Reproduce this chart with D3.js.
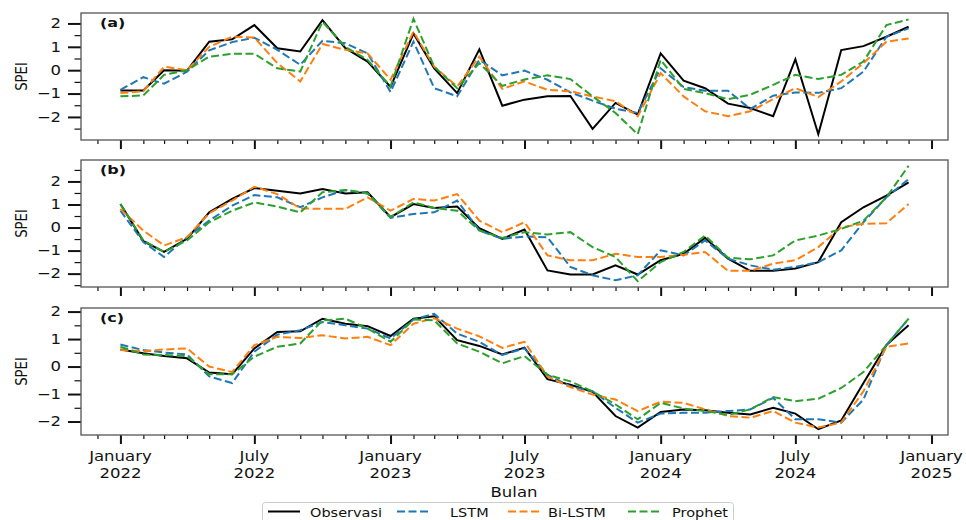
<!DOCTYPE html>
<html><head><meta charset="utf-8">
<script src="https://cdn.jsdelivr.net/npm/d3@7"></script>
<style>body{margin:0;background:#fff} svg{display:block}</style>
</head><body><svg id="chart" width="966" height="520"></svg>
<script>
// ---------- data ----------
const firstMonth = "2022-01-01";
const lastMonthExclusive = "2025-01-01";
const seriesNames = ["Observasi", "LSTM", "Bi-LSTM", "Prophet"];
const panelLabels = ["(a)", "(b)", "(c)"];
const majorTickDates = ["2022-01-01","2022-07-01","2023-01-01","2023-07-01","2024-01-01","2024-07-01","2025-01-01"];
const majorTickLabels = [["January","2022"],["July","2022"],["January","2023"],["July","2023"],["January","2024"],["July","2024"],["January","2025"]];

const obsA = [-0.87,-0.87,0.0,-0.02,1.22,1.32,1.93,0.94,0.8,2.14,0.94,0.37,-0.72,1.57,0.08,-0.98,0.89,-1.52,-1.26,-1.12,-1.1,-2.51,-1.4,-1.9,0.72,-0.45,-0.77,-1.43,-1.62,-1.97,0.47,-2.74,0.86,1.03,1.43,1.86];
const lstmA = [-0.84,-0.3,-0.58,-0.06,0.85,1.2,1.39,0.87,0.23,1.26,1.15,0.72,-0.93,1.22,-0.77,-1.12,0.45,-0.22,-0.02,-0.41,-0.95,-1.3,-1.65,-1.83,0.08,-0.72,-0.88,-0.88,-1.66,-1.09,-0.95,-0.97,-0.77,-0.06,1.43,1.79];
const biA = [-0.98,-0.9,0.15,0.0,1.0,1.43,1.4,0.3,-0.48,1.12,0.87,0.72,-0.41,1.65,0.15,-0.7,0.58,-0.8,-0.48,-0.84,-0.9,-1.12,-1.33,-1.97,-0.13,-1.12,-1.76,-1.97,-1.76,-1.24,-0.77,-1.15,-0.48,0.3,1.22,1.36];
const prophetA = [-1.12,-1.08,-0.2,0.0,0.58,0.7,0.7,0.08,-0.06,2.07,1.0,0.44,-0.7,2.2,0.15,-0.77,0.3,-0.67,-0.4,-0.22,-0.38,-1.12,-1.83,-2.74,0.44,-0.8,-0.98,-1.24,-1.05,-0.63,-0.2,-0.38,-0.2,0.37,1.93,2.17];

const obsB = [1.02,-0.59,-1.06,-0.49,0.66,1.24,1.71,1.6,1.48,1.67,1.48,1.53,0.45,1.02,0.85,0.91,-0.03,-0.49,-0.09,-1.86,-2.04,-2.04,-1.64,-2.04,-1.42,-1.14,-0.45,-1.35,-1.88,-1.88,-1.78,-1.5,0.23,0.88,1.38,1.96];
const lstmB = [0.73,-0.63,-1.28,-0.42,0.3,0.95,1.41,1.31,0.88,1.31,1.63,1.48,0.42,0.59,0.66,1.17,-0.13,-0.49,-0.39,-0.42,-1.71,-2.07,-2.29,-2.07,-0.99,-1.21,-0.56,-1.35,-1.64,-1.83,-1.71,-1.5,-0.99,0.23,1.31,2.1];
const biB = [0.81,-0.13,-0.78,-0.42,0.62,1.17,1.77,1.45,0.83,0.81,0.81,1.31,0.73,1.24,1.17,1.45,0.3,-0.2,0.23,-1.21,-1.42,-1.42,-1.14,-1.28,-1.28,-1.18,-1.06,-1.88,-1.88,-1.57,-1.42,-0.85,0.01,0.16,0.19,1.02];
const prophetB = [1.02,-0.56,-1.06,-0.56,0.23,0.73,1.09,0.91,0.66,1.53,1.63,1.48,0.45,1.09,0.85,0.73,-0.13,-0.45,-0.2,-0.3,-0.2,-0.85,-1.28,-2.33,-1.5,-1.06,-0.35,-1.31,-1.38,-1.21,-0.56,-0.35,-0.06,0.3,1.31,2.68];

const obsC = [0.62,0.48,0.38,0.3,-0.22,-0.28,0.66,1.26,1.28,1.74,1.56,1.47,1.11,1.74,1.83,0.96,0.75,0.44,0.69,-0.46,-0.66,-0.92,-1.8,-2.22,-1.65,-1.56,-1.59,-1.68,-1.74,-1.5,-1.71,-2.28,-1.96,-0.6,0.78,1.5];
const lstmC = [0.8,0.6,0.51,0.44,-0.36,-0.6,0.54,1.16,1.32,1.62,1.5,1.38,1.02,1.71,1.92,1.2,0.9,0.42,0.66,-0.3,-0.72,-0.9,-1.5,-2.04,-1.71,-1.68,-1.68,-1.62,-1.56,-1.14,-1.92,-1.92,-2.04,-1.2,0.78,1.74];
const biC = [0.6,0.56,0.62,0.66,0.0,-0.2,0.78,1.08,1.04,1.14,1.02,1.08,0.78,1.56,1.76,1.38,1.1,0.68,0.9,-0.36,-0.75,-1.02,-1.2,-1.62,-1.28,-1.32,-1.56,-1.8,-1.86,-1.62,-2.04,-2.22,-2.04,-0.9,0.72,0.84];
const prophetC = [0.72,0.44,0.42,0.38,-0.28,-0.28,0.36,0.72,0.84,1.68,1.74,1.38,0.9,1.71,1.68,0.84,0.54,0.12,0.38,-0.3,-0.54,-0.9,-1.38,-1.92,-1.32,-1.53,-1.62,-1.76,-1.56,-1.11,-1.26,-1.17,-0.78,-0.2,0.78,1.74];

const panelData = [[obsA, lstmA, biA, prophetA],[obsB, lstmB, biB, prophetB],[obsC, lstmC, biC, prophetC]];

// ---------- styles ----------
const colors = ["#000000", "#1f77b4", "#ff7f0e", "#2ca02c"];
const dashes = [null, "8,3.5", "8,3.5", "8,3.5"];
const FONT = "DejaVu Sans, sans-serif";
const SY = 0.8;
const L = 81, R = 948, PH = 127;
const tops = [13, 160, 308];

const svg = d3.select("#chart");
const parse = d3.utcParse("%Y-%m-%d");
const months = d3.utcMonth.range(parse(firstMonth), parse(lastMonthExclusive));
const t0 = +months[0], t1 = +months[months.length - 1], span = t1 - t0;
const x = d3.scaleUtc().domain([new Date(t0 - 0.05 * span), new Date(t1 + 0.05 * span)]).range([L, R]);
const majorDates = majorTickDates.map(parse);
const minorDates = d3.utcMonth.range(x.domain()[0], x.domain()[1]).filter(d => !majorDates.some(m => +m === +d));

function txt(g, px, py, str, size, opts = {}) {
  const t = g.append("text")
    .attr("transform", `translate(${px},${py}) scale(1,${SY})` + (opts.rotate ? ` rotate(${opts.rotate})` : ""))
    .attr("font-family", FONT).attr("font-size", size)
    .attr("text-anchor", opts.anchor || "middle")
    .attr("fill", "#111")
    .text(str);
  if (opts.bold) t.attr("font-weight", "bold");
  if (opts.dy) t.attr("dy", opts.dy);
  return t;
}
const fmtY = d => d < 0 ? "\u2212" + Math.abs(d) : String(d);

panelData.forEach((series, pi) => {
  const top = tops[pi];
  const g = svg.append("g");
  const all = series.flat();
  const [mn, mx] = d3.extent(all);
  const pad = 0.05 * (mx - mn);
  const y = d3.scaleLinear().domain([mn - pad, mx + pad]).range([top + PH, top]);
  const [d0, d1] = y.domain();
  const majorY = d3.range(Math.ceil(d0), Math.floor(d1) + 1);
  const minorY = d3.range(Math.ceil(d0 * 2), Math.floor(d1 * 2) + 1).map(v => v / 2).filter(v => !Number.isInteger(v));

  // y axis
  const gyMinor = g.append("g").attr("transform", `translate(${L},0)`)
    .call(d3.axisLeft(y).tickValues(minorY).tickSize(6.5).tickFormat(""));
  const gyMajor = g.append("g").attr("transform", `translate(${L},0)`)
    .call(d3.axisLeft(y).tickValues(majorY).tickSize(13).tickFormat(""));
  // x axis
  const gxMinor = g.append("g").attr("transform", `translate(0,${top + PH})`)
    .call(d3.axisBottom(x).tickValues(minorDates).tickSize(4).tickFormat(""));
  const gxMajor = g.append("g").attr("transform", `translate(0,${top + PH})`)
    .call(d3.axisBottom(x).tickValues(majorDates).tickSize(9).tickFormat(""));
  [gyMinor, gyMajor, gxMinor, gxMajor].forEach(a => a.select(".domain").remove());
  [gyMinor, gxMinor].forEach(a => a.selectAll("line").attr("stroke", "#111").attr("stroke-width", 1.2));
  [gyMajor, gxMajor].forEach(a => a.selectAll("line").attr("stroke", "#111").attr("stroke-width", 2));

  majorY.forEach(v => txt(g, 61, y(v), fmtY(v), 16.5, {anchor: "end", dy: "0.36em"}));

  if (pi === 2) {
    majorDates.forEach((d, i) => {
      txt(g, x(d), 461, majorTickLabels[i][0], 16.5);
      txt(g, x(d), 477.5, majorTickLabels[i][1], 16.5);
    });
  }

  // lines
  const clipId = "clip" + pi;
  svg.append("clipPath").attr("id", clipId).append("rect").attr("x", L).attr("y", top).attr("width", R - L).attr("height", PH);
  const line = d3.line().x((d, i) => x(months[i])).y(d => y(d));
  const lg = g.append("g").attr("clip-path", `url(#${clipId})`);
  series.forEach((s, si) => {
    lg.append("path").datum(s).attr("d", line)
      .attr("fill", "none").attr("stroke", colors[si])
      .attr("stroke-width", 2).attr("stroke-dasharray", dashes[si])
      .attr("stroke-linejoin", "miter");
  });

  // frame
  g.append("rect").attr("x", L).attr("y", top).attr("width", R - L).attr("height", PH)
    .attr("fill", "none").attr("stroke", "#555").attr("stroke-width", 1.3);

  txt(g, 100, top + 14, panelLabels[pi], 16, {anchor: "start", bold: true});
  txt(g, 27, top + PH / 2, "SPEI", 16.5, {rotate: -90});
});

txt(svg, 514, 497, "Bulan", 16.5);

// legend
const lgd = svg.append("g");
lgd.append("rect").attr("x", 262.5).attr("y", 502.5).attr("width", 471).attr("height", 30)
  .attr("rx", 3).attr("fill", "#fff").attr("stroke", "#ccc").attr("stroke-width", 1);
const legendLineX = [268, 397, 508, 628];
const legendTextX = [310, 450, 548, 672];
seriesNames.forEach((name, i) => {
  lgd.append("line").attr("x1", legendLineX[i]).attr("x2", legendLineX[i] + 32)
    .attr("y1", 511.5).attr("y2", 511.5)
    .attr("stroke", colors[i]).attr("stroke-width", 2).attr("stroke-dasharray", dashes[i]);
  txt(lgd, legendTextX[i], 516.5, name, 14.5, {anchor: "start"});
});
</script></body></html>
